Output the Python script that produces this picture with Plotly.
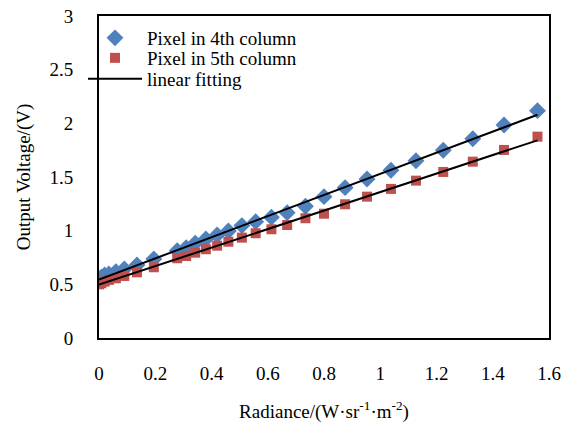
import numpy as np
import plotly.graph_objects as go

# Radiance values (W·sr^-1·m^-2)
radiance = [0, 0.008, 0.02, 0.035, 0.06, 0.09, 0.135, 0.195, 0.278, 0.31, 0.342, 0.38,
            0.42, 0.46, 0.508, 0.557, 0.613, 0.669, 0.734, 0.8, 0.875, 0.953, 1.038,
            1.127, 1.224, 1.329, 1.44, 1.559]
# Output voltage, pixel in 4th column
col4 = [0.541, 0.566, 0.587, 0.596, 0.618, 0.643, 0.680, 0.736, 0.814, 0.842, 0.883, 0.923,
        0.960, 0.997, 1.047, 1.084, 1.125, 1.168, 1.227, 1.317, 1.401, 1.482, 1.563,
        1.652, 1.749, 1.857, 1.985, 2.118]
# Output voltage, pixel in 5th column
col5 = [0.500, 0.510, 0.525, 0.541, 0.556, 0.578, 0.612, 0.659, 0.743, 0.764, 0.795, 0.827,
        0.860, 0.897, 0.935, 0.976, 1.013, 1.053, 1.116, 1.158, 1.246, 1.317, 1.389,
        1.466, 1.547, 1.643, 1.752, 1.876]

x_ticks = [0, 0.2, 0.4, 0.6, 0.8, 1, 1.2, 1.4, 1.6]
y_ticks = [0, 0.5, 1, 1.5, 2, 2.5, 3]

FONT = "Liberation Serif, Times New Roman, serif"
BLUE = "#4F81BD"
RED = "#C0504D"

xr = np.array(radiance)
p4 = np.polyfit(xr, np.array(col4), 1)
p5 = np.polyfit(xr, np.array(col5), 1)
xfit = [0, radiance[-1]]

fig = go.Figure()
fig.add_trace(go.Scatter(x=radiance, y=col4, mode="markers", name="Pixel in 4th column",
                         marker=dict(symbol="diamond", size=13, color=BLUE),
                         legend="legend"))
fig.add_trace(go.Scatter(x=radiance, y=col5, mode="markers", name="Pixel in 5th column",
                         marker=dict(symbol="square", size=10, color=RED),
                         legend="legend2"))
fig.add_trace(go.Scatter(x=xfit, y=list(np.polyval(p4, xfit)), mode="lines",
                         name="linear fitting", line=dict(color="black", width=2),
                         legend="legend3"))
fig.add_trace(go.Scatter(x=xfit, y=list(np.polyval(p5, xfit)), mode="lines",
                         name="linear fitting", line=dict(color="black", width=2),
                         showlegend=False))

# page body has an 8px default margin; figure coordinates = screen - 8
OFF = 8
W, H = 572, 427
L = 99 - OFF
T = 16 - OFF
R = W - (549 - OFF)
B = H - (338 - OFF)
pw, ph = W - L - R, H - T - B

def lx(px):
    return (px - OFF - L) / pw

def ly(py):
    return (H - B - (py - OFF)) / ph

legend_common = dict(font=dict(family=FONT, size=19, color="black"),
                     bgcolor="rgba(0,0,0,0)", itemwidth=54,
                     xanchor="left", yanchor="middle", xref="paper", yref="paper")

fig.update_layout(
    width=W, height=H,
    margin=dict(l=L, r=R, t=T, b=B, autoexpand=False),
    paper_bgcolor="white", plot_bgcolor="white",
    font=dict(family=FONT, size=19, color="black"),
    legend=dict(x=lx(83), y=ly(38), **legend_common),
    legend2=dict(x=lx(83), y=ly(58), **legend_common),
    legend3=dict(x=lx(83), y=ly(79), **legend_common),
    xaxis=dict(range=[0, 1.6], tickvals=x_ticks, ticktext=[str(v) for v in x_ticks],
               showgrid=False, zeroline=False, showline=True, mirror=True,
               linecolor="black", linewidth=2, ticks="", ticklabelstandoff=17,
               ticklabeloverflow="allow",
               title=dict(text="Radiance/(W·sr<sup>-1</sup>·m<sup>-2</sup>)",
                          font=dict(family=FONT, size=19), standoff=22)),
    yaxis=dict(range=[0, 3], tickvals=y_ticks, ticktext=[str(v) for v in y_ticks],
               showgrid=False, zeroline=False, showline=True, mirror=True,
               linecolor="black", linewidth=2, ticks="", ticklabelstandoff=20,
               ticklabeloverflow="allow",
               title=dict(text="Output Voltage/(V)", font=dict(family=FONT, size=19),
                          standoff=14)),
)

fig.write_html("out.html")
